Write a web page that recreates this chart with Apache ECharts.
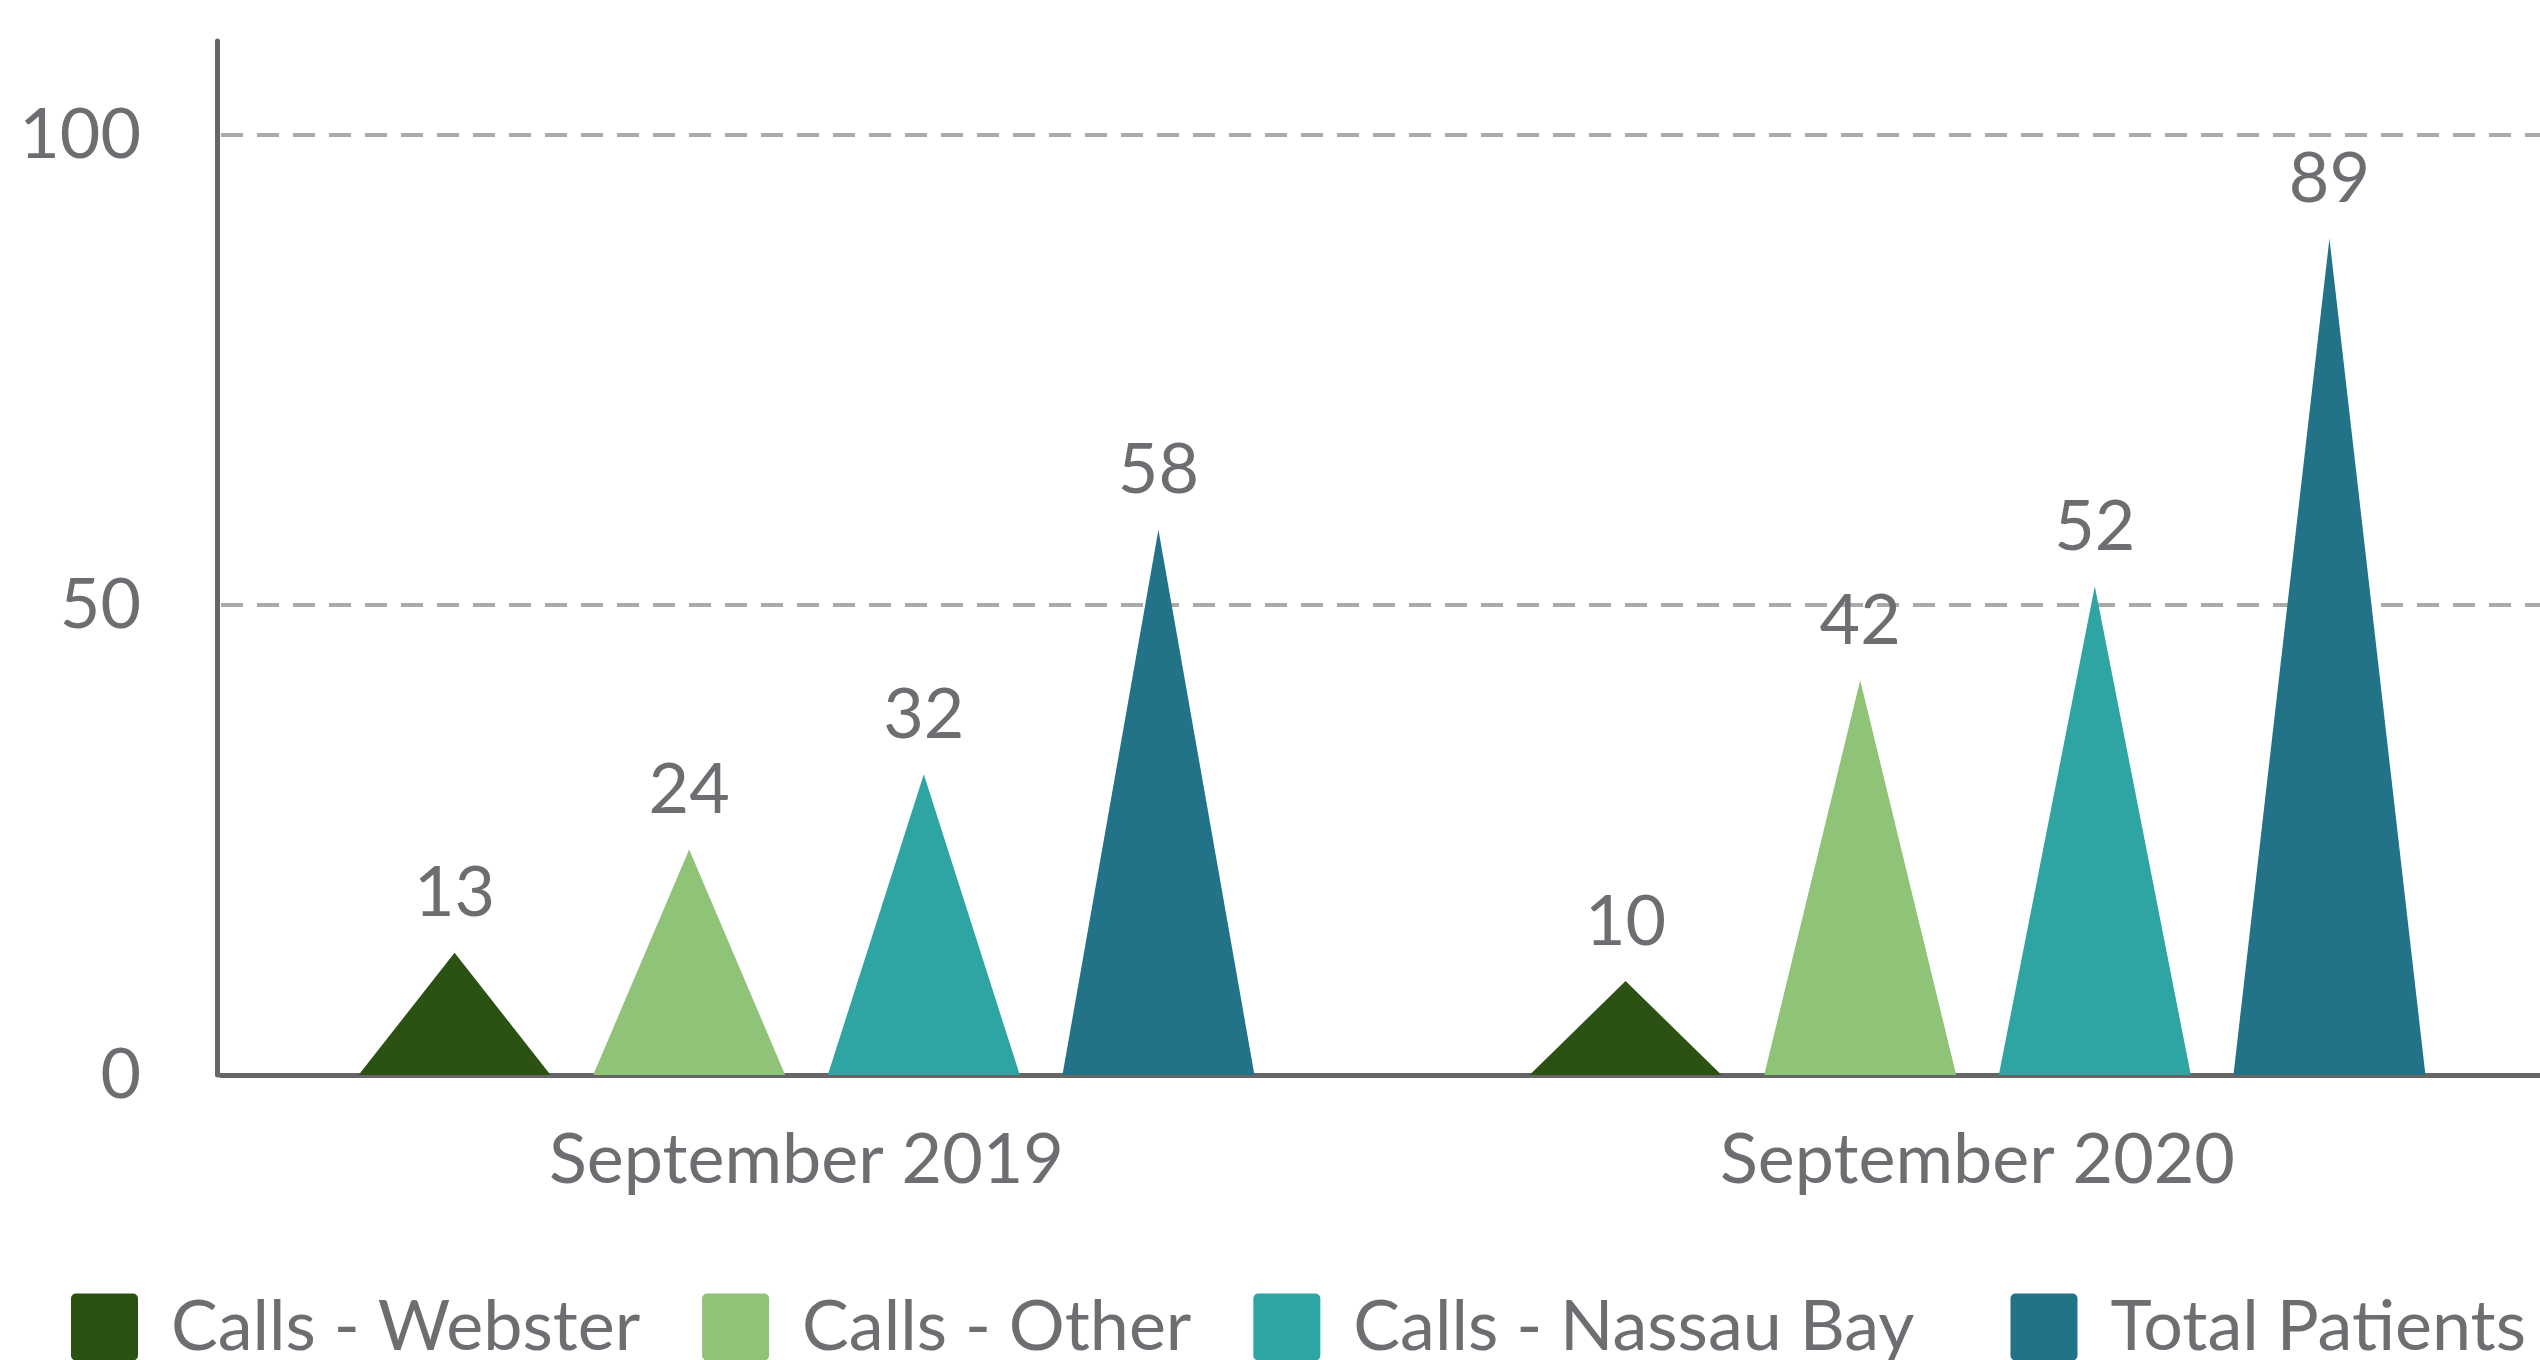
<!DOCTYPE html>
<html>
<head>
<meta charset="utf-8">
<script src="https://cdn.jsdelivr.net/npm/echarts@6/dist/echarts.min.js"></script>
<style>
html,body{margin:0;padding:0;background:#fff;overflow:hidden;}
/* the plot runs a little past the right edge of the picture, so the canvas is wider than the window */
#chart{width:2563px;height:1360px;}
</style>
</head>
<body>
<div id="chart"></div>
<script>
// categories and series values
var months = ['September 2019', 'September 2020'];
var seriesNames = ['Calls - Webster', 'Calls - Other', 'Calls - Nassau Bay', 'Total Patients'];
var webster = [13, 10];
var other = [24, 42];
var nassauBay = [32, 52];
var totalPatients = [58, 89];
var colors = ['#2b5213', '#8fc378', '#2ea5a3', '#227387'];

var textColor = '#6d6e72';
var font = 'Lato';
// square legend chip with small rounded corners
var chip = 'path://M5,0H63A5,5,0,0,1,68,5V63A5,5,0,0,1,63,68H5A5,5,0,0,1,0,63V5A5,5,0,0,1,5,0Z';

function makeSeries(name, data, idx){
    return {
        name: name,
        type: 'pictorialBar',
        symbol: 'triangle',
        symbolSize: ['100%', '100%'],
        barWidth: 192,
        barGap: '22.2%',
        itemStyle: {color: colors[idx]},
        label: {
            show: true,
            position: 'top',
            distance: 24,
            color: textColor,
            fontFamily: font,
            fontSize: 70
        },
        data: data
    };
}

var option = {
    animation: false,
    color: colors,
    grid: {
        left: 221,
        right: 0,
        top: 41,
        bottom: 285,
        containLabel: false
    },
    legend: {
        left: 66,
        top: 1287,
        itemWidth: 67,
        itemHeight: 67,
        itemGap: 62,
        icon: chip,
        formatter: function(name){
            // the last gap in the legend is a bit wider
            return name === 'Calls - Nassau Bay' ? name + '\u00a0\u00a0' : name;
        },
        textStyle: {
            color: textColor,
            fontFamily: font,
            fontSize: 70,
            padding: [0, 0, 0, 28]
        },
        data: seriesNames
    },
    xAxis: {
        type: 'category',
        data: months,
        axisLine: {lineStyle: {color: '#666', width: 5}},
        axisTick: {show: false},
        axisLabel: {
            color: textColor,
            fontFamily: font,
            fontSize: 70,
            margin: 50
        }
    },
    yAxis: {
        type: 'value',
        min: 0,
        max: 110,
        interval: 50,
        offset: 4,
        axisLine: {show: true, lineStyle: {color: '#666', width: 5}},
        axisTick: {show: false},
        axisLabel: {
            color: textColor,
            fontFamily: font,
            fontSize: 70,
            margin: 76,
            showMaxLabel: false
        },
        splitLine: {
            show: true,
            lineStyle: {
                color: ['#aaaaaa', '#aaaaaa', '#aaaaaa', 'rgba(0,0,0,0)'],
                width: 4,
                type: [22, 14]
            }
        }
    },
    series: [
        makeSeries(seriesNames[0], webster, 0),
        makeSeries(seriesNames[1], other, 1),
        makeSeries(seriesNames[2], nassauBay, 2),
        makeSeries(seriesNames[3], totalPatients, 3)
    ]
};

var myChart = echarts.init(document.getElementById('chart'));
myChart.setOption(option);
</script>
</body>
</html>
